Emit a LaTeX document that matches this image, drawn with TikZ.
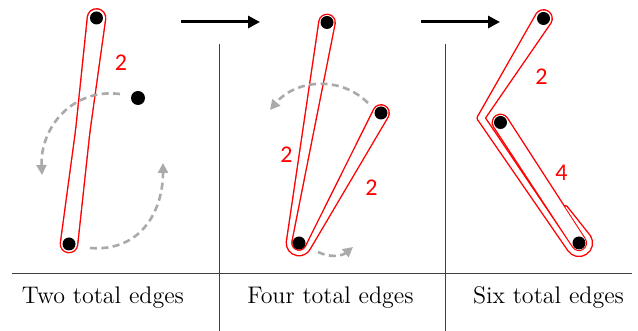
\documentclass[tikz,border=0pt]{standalone}
\usepackage{fontspec}
\newfontfamily\numfont{Carlito}
\usetikzlibrary{arrows.meta, calc, backgrounds}
\definecolor{arrowgray}{RGB}{170,170,170}

\newcommand{\loophull}[5][]{%
  \path[#1] let \p1=($(#4)-(#2)$), \n1={atan2(\y1,\x1)} in
    ($(#2)+(\n1+90:#3)$) -- ($(#4)+(\n1+90:#5)$)
    arc[start angle=\n1+90, end angle=\n1-90, radius=#5]
    -- ($(#4)+(\n1-90:#5)$) -- ($(#2)+(\n1-90:#3)$)
    arc[start angle=\n1-90, end angle=\n1-270, radius=#3] -- cycle;}

\newcommand{\edgeloops}[3]{%
  \loophull[#1]{t1}{8.5}{m1}{6.5}
  \loophull[#1]{m1}{6.5}{b1}{8}
  \loophull[#1]{t2}{7.5}{qa2}{2}
  \loophull[#1]{r2}{7.5}{qb2}{2}
  \draw[#2] (qa2) arc[start angle=172.8, end angle=327.8, radius=10];
  \loophull[#1]{t3}{8}{p3}{3}
  \loophull[#1]{p3}{3}{q3}{2.25}
  \draw[#3] (q3) arc[start angle=213, end angle=393, radius=10.5];
  \loophull[#1]{e3}{2.25}{f3}{0.5}
  \loophull[#1]{m3}{7.5}{b3}{7}}

\begin{document}
\begin{tikzpicture}[x=0.5pt, y=0.5pt,
  dot/.style={circle, fill=black, inner sep=0pt, minimum size=6.5pt},
  weight/.style={text=red, font=\numfont\large},
  caption/.style={font=\large},
  loopred/.style={fill=red, draw=red, line width=1.4pt},
  loopwhite/.style={fill=white},
  bandred/.style={draw=red, line width=3.4pt},
  bandwhite/.style={draw=white, line width=2pt},
  widered/.style={draw=red, line width=3.65pt},
  widewhite/.style={draw=white, line width=2.25pt},
  move/.style={-{Triangle[length=6pt, width=6pt]}, line width=1.5pt},
  swing/.style={-{Triangle[length=5pt, width=5pt]}, draw=arrowgray, line width=1.3pt,
                dash pattern=on 3.5pt off 2.2pt},
  divider/.style={line width=0.5pt, black!75}]

  \useasboundingbox (0,0) rectangle (638,-331);

  \node[dot] (t1) at (96.5,-18) {};
  \node[dot] (b1) at (69,-244) {};
  \node[dot, minimum size=7pt] (f1) at (138,-98) {};
  \node[dot] (t2) at (327,-22.5) {};
  \node[dot] (r2) at (381,-113) {};
  \node[dot] (b2) at (299,-243) {};
  \node[dot] (t3) at (543.5,-18.5) {};
  \node[dot] (m3) at (500.5,-122.5) {};
  \node[dot] (b3) at (579,-243) {};

  \coordinate (m1)  at ($(t1)!0.5!(b1)$);
  \coordinate (qa2) at ($(b2)+(172.8:10)$);
  \coordinate (qb2) at ($(b2)+(327.8:10)$);
  \coordinate (p3)  at (481,-118);
  \coordinate (q3)  at ($(b3)+(213:10.5)$);
  \coordinate (e3)  at ($(b3)+(33:10.5)$);
  \coordinate (f3)  at (566,-207);

  \begin{scope}[on background layer]
    \edgeloops{loopred}{bandred}{widered}
    \edgeloops{loopwhite}{bandwhite}{widewhite}
  \end{scope}

  \node[weight] (w1)  at (121,-63) {2};
  \node[weight] (w2a) at (286.5,-155) {2};
  \node[weight] (w2b) at (371.5,-188) {2};
  \node[weight] (w3a) at (541.5,-77) {2};
  \node[weight] (w3b) at (561.5,-173) {4};

  \coordinate (sw1s) at (120,-94);
  \coordinate (sw1e) at (42,-175);
  \coordinate (sw2s) at (90,-248);
  \coordinate (sw2e) at (163,-163);
  \coordinate (sw3s) at (368,-103);
  \coordinate (sw3e) at (270,-110);
  \coordinate (sw4s) at (318,-252);
  \coordinate (sw4e) at (353,-247);

  \draw[swing] (sw1s) .. controls (72,-88) and (40,-128) .. (sw1e);
  \draw[swing] (sw2s) .. controls (140,-252) and (163,-212) .. (sw2e);
  \draw[swing] (sw3s) .. controls (340,-75) and (295,-80) .. (sw3e);
  \draw[swing] (sw4s) .. controls (330,-258) and (342,-256) .. (sw4e);

  \coordinate (mv1s) at (181,-22);
  \coordinate (mv1e) at (260,-22);
  \coordinate (mv2s) at (421,-22);
  \coordinate (mv2e) at (500,-22);
  \draw[move] (mv1s) -- (mv1e);
  \draw[move] (mv2s) -- (mv2e);

  \coordinate (dv1t) at (219,-44);
  \coordinate (dv1b) at (219,-331);
  \coordinate (dv2t) at (445,-44);
  \coordinate (dv2b) at (445,-331);
  \coordinate (baseL) at (12,-274);
  \coordinate (baseR) at (632,-274);
  \draw[divider] (dv1t) -- (dv1b);
  \draw[divider] (dv2t) -- (dv2b);
  \draw[divider] (baseL) -- (baseR);

  \node[caption] (c1) at (103,-298) {Two total edges};
  \node[caption] (c2) at (330.5,-298) {Four total edges};
  \node[caption] (c3) at (548.5,-298) {Six total edges};
\end{tikzpicture}
\end{document}
